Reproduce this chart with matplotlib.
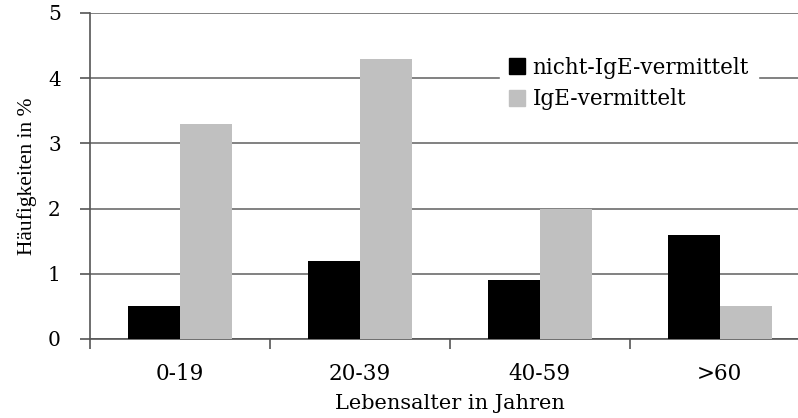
import numpy as np
import matplotlib.pyplot as plt
from matplotlib.patches import Patch

# age groups and frequencies in %
groups = ['0-19', '20-39', '40-59', '>60']
non_ige = [0.5, 1.2, 0.9, 1.6]
ige = [3.3, 4.3, 2.0, 0.5]

fig = plt.figure(figsize=(7.98, 4.18), dpi=100)
ax = fig.add_axes([0.1128, 0.189, 0.902, 0.780])

x = np.arange(len(groups))
w = 0.29
ax.bar(x - w / 2, non_ige, w, color='black', zorder=3)
ax.bar(x + w / 2, ige, w, color='#c0c0c0', zorder=3)

ax.set_xlim(-0.5, 3.5)
ax.set_ylim(0, 5)
ax.set_yticks(range(6))
ax.set_xticks(x, groups)
ax.set_xticks(np.arange(-0.5, 4, 1), minor=True)
ax.tick_params(axis='x', which='major', length=0, pad=17)
ax.tick_params(axis='x', which='minor', length=7, width=1.2, color='#555555')
ax.tick_params(axis='y', length=7, width=1.2, color='#555555', pad=14)
for lab in ax.get_xticklabels():
    lab.set_family('DejaVu Serif')
    lab.set_fontsize(15.5)
for lab in ax.get_yticklabels():
    lab.set_family('DejaVu Serif')
    lab.set_fontsize(14.5)
ax.yaxis.grid(True, color='#777777', linewidth=1.3, zorder=0)
for s in ['top', 'right']:
    ax.spines[s].set_visible(False)
ax.spines['left'].set_color('#555555')
ax.spines['bottom'].set_color('#555555')
ax.spines['left'].set_linewidth(1.2)
ax.spines['bottom'].set_linewidth(1.2)

ax.set_xlabel('Lebensalter in Jahren', family='DejaVu Serif', fontsize=15, labelpad=7)
ax.set_ylabel('Häufigkeiten in %', family='Liberation Serif', fontsize=15.5, labelpad=8)

handles = [Patch(color='black'), Patch(color='#c0c0c0')]
leg = ax.legend(handles, ['nicht-IgE-vermittelt', 'IgE-vermittelt'],
                loc='upper left', bbox_to_anchor=(0.555, 0.925),
                frameon=True, fancybox=False, edgecolor='white', framealpha=1,
                prop={'family': 'DejaVu Serif', 'size': 15.5},
                handlelength=0.75, handleheight=0.75, handletextpad=0.35,
                labelspacing=0.45)
leg.set_zorder(5)

fig.savefig('out.png', dpi=100)
